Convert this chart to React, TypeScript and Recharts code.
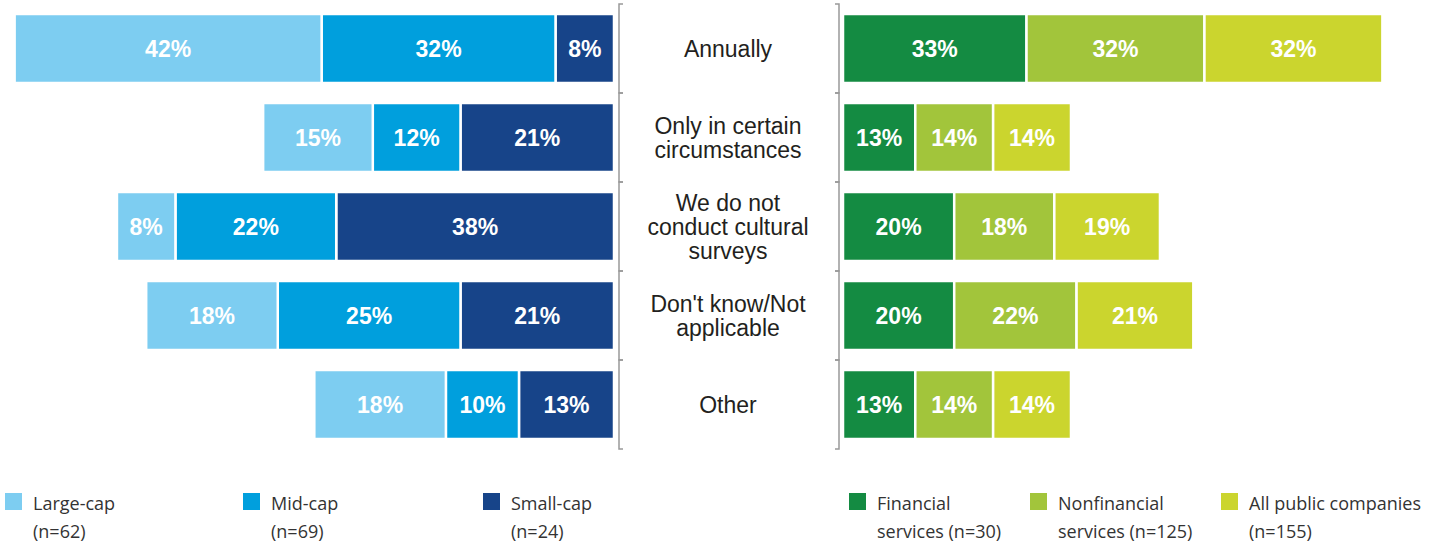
import React from "react";
import { BarChart, Bar, XAxis, YAxis, LabelList } from "recharts";

// categories (line breaks as in the original layout)
const categories = [
  "Annually",
  "Only in certain\ncircumstances",
  "We do not\nconduct cultural\nsurveys",
  "Don't know/Not\napplicable",
  "Other",
];

// left panel: company size
const largeCap = [42, 15, 8, 18, 18];
const midCap = [32, 12, 22, 25, 10];
const smallCap = [8, 21, 38, 21, 13];

// right panel: industry
const financial = [33, 13, 20, 20, 13];
const nonfinancial = [32, 14, 18, 22, 14];
const allPublic = [32, 14, 19, 21, 14];

const leftLegend = [
  { lines: ["Large-cap", "(n=62)"], color: "#7dcdf1", left: 5 },
  { lines: ["Mid-cap", "(n=69)"], color: "#009fdd", left: 243 },
  { lines: ["Small-cap", "(n=24)"], color: "#174489", left: 483 },
];
const rightLegend = [
  { lines: ["Financial", "services (n=30)"], color: "#148b42", left: 849 },
  { lines: ["Nonfinancial", "services (n=125)"], color: "#a2c53b", left: 1030 },
  { lines: ["All public companies", "(n=155)"], color: "#cbd52e", left: 1221 },
];

const data = categories.map((category, i) => ({
  category,
  large: largeCap[i],
  mid: midCap[i],
  small: smallCap[i],
  fin: financial[i],
  nonfin: nonfinancial[i],
  all: allPublic[i],
}));

const H = 455;
const MARGIN = { top: 4, right: 0, bottom: 6, left: 0 };
const BAND = (H - MARGIN.top - MARGIN.bottom) / categories.length;
const Y_AXIS_W = 227;
const BR_L = 3;
const BR_R = 223;
const LABEL_X = 112;

const labelFmt = (v: any) => `${v}%`;
const barLabel = {
  fill: "#fff",
  fontSize: 23,
  fontWeight: 700,
  fontFamily: "'Liberation Sans', Arial, sans-serif",
};

function CategoryTick(props: any) {
  const { y, payload } = props;
  const lines = String(payload.value).split("\n");
  const half = BAND / 2;
  const lineH = 24;
  const startY = y - ((lines.length - 1) * lineH) / 2;
  return (
    <g>
      <path
        d={`M${BR_L + 4},${y - half}H${BR_L}V${y + half}H${BR_L + 4}`}
        stroke="#999"
        strokeWidth={1.5}
        fill="none"
      />
      <path
        d={`M${BR_R - 4},${y - half}H${BR_R}V${y + half}H${BR_R - 4}`}
        stroke="#999"
        strokeWidth={1.5}
        fill="none"
      />
      <text
        textAnchor="middle"
        fontSize={23}
        fill="#231f20"
        fontFamily="'Liberation Sans', Arial, sans-serif"
      >
        {lines.map((l, i) => (
          <tspan key={i} x={LABEL_X} y={startY + i * lineH} dy="0.36em">
            {l}
          </tspan>
        ))}
      </text>
    </g>
  );
}

function Legend({ items }: { items: typeof leftLegend }) {
  return (
    <>
      {items.map((it) => (
        <div key={it.lines[0]} style={{ position: "absolute", left: it.left, top: 489 }}>
          <div
            style={{
              position: "absolute",
              left: 0,
              top: 4,
              width: 17,
              height: 17,
              background: it.color,
            }}
          />
          <div
            style={{
              position: "absolute",
              left: 28,
              top: 0,
              whiteSpace: "nowrap",
              fontFamily: "'Open Sans', sans-serif",
              fontSize: 18,
              lineHeight: "28px",
              color: "#333",
            }}
          >
            {it.lines.map((l) => (
              <div key={l}>{l}</div>
            ))}
          </div>
        </div>
      ))}
    </>
  );
}

export default function App() {
  return (
    <div
      style={{
        position: "absolute",
        left: 0,
        top: 0,
        width: 1438,
        height: 549,
        background: "#fff",
      }}
    >
      <div style={{ position: "absolute", left: 0, top: 0 }}>
        <BarChart width={614} height={H} data={data} layout="vertical" margin={MARGIN} barSize={69}>
          <XAxis type="number" domain={[0, 84]} reversed hide />
          <YAxis type="category" dataKey="category" hide />
          <Bar dataKey="small" stackId="a" fill="#174489" stroke="#fff" strokeWidth={2.5} isAnimationActive={false}>
            <LabelList dataKey="small" position="center" formatter={labelFmt} {...barLabel} />
          </Bar>
          <Bar dataKey="mid" stackId="a" fill="#009fdd" stroke="#fff" strokeWidth={2.5} isAnimationActive={false}>
            <LabelList dataKey="mid" position="center" formatter={labelFmt} {...barLabel} />
          </Bar>
          <Bar dataKey="large" stackId="a" fill="#7dcdf1" stroke="#fff" strokeWidth={2.5} isAnimationActive={false}>
            <LabelList dataKey="large" position="center" formatter={labelFmt} {...barLabel} />
          </Bar>
        </BarChart>
      </div>
      <div style={{ position: "absolute", left: 616, top: 0 }}>
        <BarChart width={822} height={H} data={data} layout="vertical" margin={MARGIN} barSize={69}>
          <XAxis type="number" domain={[0, 107]} hide />
          <YAxis
            type="category"
            dataKey="category"
            width={Y_AXIS_W}
            axisLine={false}
            tickLine={false}
            interval={0}
            tick={<CategoryTick />}
          />
          <Bar dataKey="fin" stackId="b" fill="#148b42" stroke="#fff" strokeWidth={2.5} isAnimationActive={false}>
            <LabelList dataKey="fin" position="center" formatter={labelFmt} {...barLabel} />
          </Bar>
          <Bar dataKey="nonfin" stackId="b" fill="#a2c53b" stroke="#fff" strokeWidth={2.5} isAnimationActive={false}>
            <LabelList dataKey="nonfin" position="center" formatter={labelFmt} {...barLabel} />
          </Bar>
          <Bar dataKey="all" stackId="b" fill="#cbd52e" stroke="#fff" strokeWidth={2.5} isAnimationActive={false}>
            <LabelList dataKey="all" position="center" formatter={labelFmt} {...barLabel} />
          </Bar>
        </BarChart>
      </div>
      <Legend items={leftLegend} />
      <Legend items={rightLegend} />
    </div>
  );
}
